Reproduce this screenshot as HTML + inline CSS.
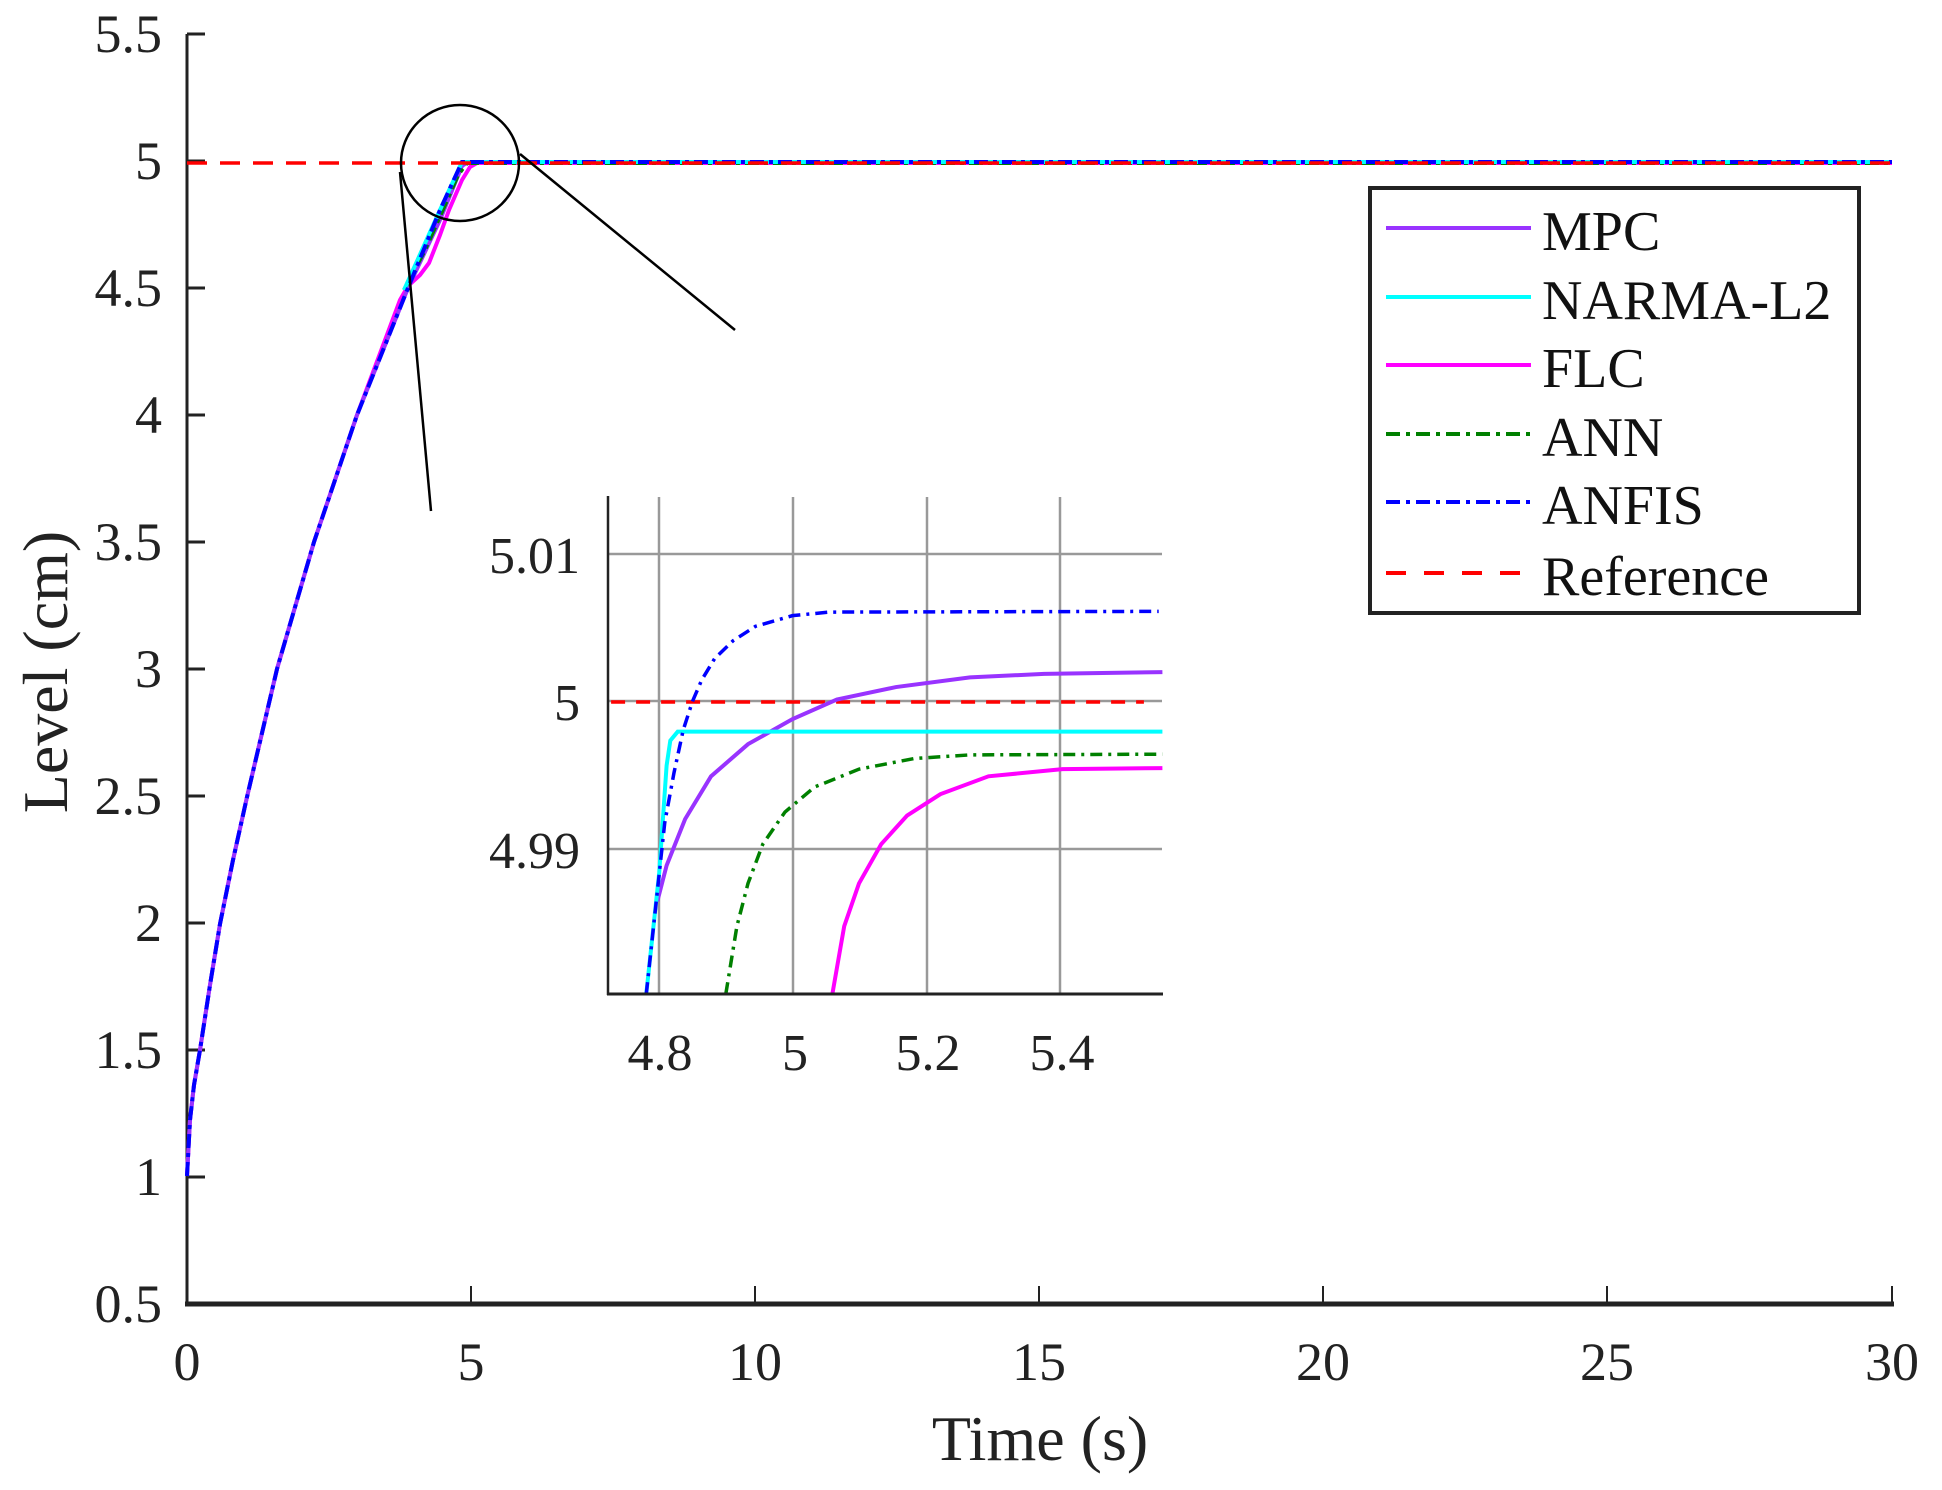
<!DOCTYPE html>
<html><head><meta charset="utf-8"><style>
html,body{margin:0;padding:0;background:#fff;}
svg{display:block;font-family:"Liberation Serif",serif;}
</style></head><body>
<svg width="1942" height="1490" viewBox="0 0 1942 1490" xmlns="http://www.w3.org/2000/svg">
<rect width="1942" height="1490" fill="#fff"/>
<!-- main axes -->
<line x1="187" y1="34" x2="187" y2="1306" stroke="#222" stroke-width="3"/>
<line x1="185" y1="1304" x2="1894" y2="1304" stroke="#222" stroke-width="5"/>
<g stroke="#222" stroke-width="3">
<line x1="187" y1="34" x2="205" y2="34"/><line x1="187" y1="161" x2="205" y2="161"/>
<line x1="187" y1="288" x2="205" y2="288"/><line x1="187" y1="415" x2="205" y2="415"/>
<line x1="187" y1="542" x2="205" y2="542"/><line x1="187" y1="669" x2="205" y2="669"/>
<line x1="187" y1="796" x2="205" y2="796"/><line x1="187" y1="923" x2="205" y2="923"/>
<line x1="187" y1="1050" x2="205" y2="1050"/><line x1="187" y1="1177" x2="205" y2="1177"/>
</g>
<g stroke="#222" stroke-width="2">
<line x1="471" y1="1304" x2="471" y2="1286"/><line x1="755" y1="1304" x2="755" y2="1286"/>
<line x1="1039" y1="1304" x2="1039" y2="1286"/><line x1="1323" y1="1304" x2="1323" y2="1286"/>
<line x1="1607" y1="1304" x2="1607" y2="1286"/><line x1="1892" y1="1304" x2="1892" y2="1286"/>
</g>
<g font-size="54" fill="#222" text-anchor="end">
<text x="162" y="52">5.5</text><text x="162" y="179">5</text><text x="162" y="306">4.5</text>
<text x="162" y="433">4</text><text x="162" y="560">3.5</text><text x="162" y="687">3</text>
<text x="162" y="814">2.5</text><text x="162" y="941">2</text><text x="162" y="1068">1.5</text>
<text x="162" y="1195">1</text><text x="162" y="1322">0.5</text>
</g>
<g font-size="54" fill="#222" text-anchor="middle">
<text x="187" y="1380">0</text><text x="471" y="1380">5</text><text x="755" y="1380">10</text>
<text x="1039" y="1380">15</text><text x="1323" y="1380">20</text><text x="1607" y="1380">25</text>
<text x="1892" y="1380">30</text>
</g>
<text x="1040" y="1460" font-size="64" fill="#222" text-anchor="middle">Time (s)</text>
<text transform="translate(67,672) rotate(-90)" font-size="64" fill="#222" text-anchor="middle">Level (cm)</text>

<!-- main curves -->
<g fill="none" stroke-width="4">
<polyline stroke="#ff00ff" points="187,1176 190,1120 194,1085 200,1050 210,985 220,924 233,860 247,797 262,733 277,669 314,542 357,415 400,300 408,286 420,275 429,263 440,235 449,210 462,180 470,167 477,163 1892,163"/>
<polyline stroke="#9933ff" points="187,1176 190,1120 194,1085 200,1050 210,985 220,924 233,860 247,797 262,733 277,669 314,542 357,415 408,288 440,220 462,166 468,162 1892,162"/>
<polyline stroke="#008000" stroke-dasharray="14,5,4,5" points="404,290 425,250 445,205 458,175 467,163 1892,163"/>
<polyline stroke="#00ffff" points="404,290 440,210 462,162 1892,162"/>
<polyline stroke="#0000ff" stroke-dasharray="14,5,4,5" points="187,1176 190,1120 194,1085 200,1050 210,985 220,924 233,860 247,797 262,733 277,669 314,542 357,415 408,288 440,210 462,162 1892,162"/>
<line x1="187" y1="163" x2="1892" y2="163" stroke="#ff0000" stroke-dasharray="20,13" stroke-width="3.5"/>
</g>
<!-- zoom circle and connectors -->
<ellipse cx="460" cy="163" rx="59" ry="58" fill="none" stroke="#000" stroke-width="2.5"/>
<line x1="400" y1="172" x2="431" y2="511" stroke="#000" stroke-width="2.5"/>
<line x1="520" y1="154" x2="735" y2="330" stroke="#000" stroke-width="2.5"/>

<!-- inset -->
<rect x="607" y="496" width="555" height="498" fill="#fff"/>
<g stroke="#999" stroke-width="2.5">
<line x1="659" y1="497" x2="659" y2="994"/><line x1="793" y1="497" x2="793" y2="994"/>
<line x1="927" y1="497" x2="927" y2="994"/><line x1="1060" y1="497" x2="1060" y2="994"/>
<line x1="607" y1="554" x2="1162" y2="554"/><line x1="607" y1="701" x2="1162" y2="701"/>
<line x1="607" y1="849" x2="1162" y2="849"/>
</g>
<g transform="translate(600,480) scale(0.37,0.357)" fill="none" stroke-width="3.5">
<polyline vector-effect="non-scaling-stroke" stroke="#ff0000" stroke-dasharray="14,11" points="30,622 1470,622"/>
<polyline vector-effect="non-scaling-stroke" stroke="#9933ff" stroke-width="4" points="155,1180 180,1080 230,950 300,830 400,740 520,670 640,615 800,580 1000,553 1200,543 1520,538"/>
<polyline vector-effect="non-scaling-stroke" stroke="#00ffff" stroke-width="4" points="125,1440 160,1100 180,800 190,730 210,705 1520,705"/>
<polyline vector-effect="non-scaling-stroke" stroke="#008000" stroke-dasharray="12,6,3,6" points="340,1440 370,1250 400,1130 440,1020 500,930 580,860 700,810 850,780 1000,770 1520,768"/>
<polyline vector-effect="non-scaling-stroke" stroke="#ff00ff" stroke-width="4" points="628,1440 660,1250 700,1130 760,1020 830,940 920,880 1050,830 1250,810 1520,807"/>
<polyline vector-effect="non-scaling-stroke" stroke="#0000ff" stroke-dasharray="12,6,3,6" points="125,1440 150,1200 175,960 200,820 225,700 250,620 275,560 310,500 360,450 420,410 520,380 620,370 1510,368"/>
</g>
<line x1="608" y1="496" x2="608" y2="995" stroke="#222" stroke-width="2.5"/>
<line x1="607" y1="994" x2="1163" y2="994" stroke="#222" stroke-width="3"/>
<g font-size="52" fill="#222" text-anchor="end">
<text x="580" y="573">5.01</text><text x="580" y="720">5</text><text x="580" y="868">4.99</text>
</g>
<g font-size="52" fill="#222" text-anchor="middle">
<text x="660" y="1070">4.8</text><text x="795" y="1070">5</text>
<text x="928" y="1070">5.2</text><text x="1062" y="1070">5.4</text>
</g>

<!-- legend -->
<rect x="1370" y="188" width="489" height="425" fill="#fff" stroke="#222" stroke-width="4"/>
<g stroke-width="4">
<line x1="1386" y1="228" x2="1531" y2="228" stroke="#9933ff"/>
<line x1="1386" y1="297" x2="1531" y2="297" stroke="#00ffff"/>
<line x1="1386" y1="365" x2="1531" y2="365" stroke="#ff00ff"/>
<line x1="1386" y1="434" x2="1531" y2="434" stroke="#008000" stroke-dasharray="14,6,4,6"/>
<line x1="1386" y1="502" x2="1531" y2="502" stroke="#0000ff" stroke-dasharray="14,6,4,6"/>
<line x1="1386" y1="573" x2="1531" y2="573" stroke="#ff0000" stroke-dasharray="20,18"/>
</g>
<g font-size="56" fill="#111">
<text x="1542" y="250">MPC</text><text x="1542" y="319">NARMA-L2</text>
<text x="1542" y="387">FLC</text><text x="1542" y="456">ANN</text>
<text x="1542" y="524">ANFIS</text><text x="1542" y="595">Reference</text>
</g>
</svg>
</body></html>
